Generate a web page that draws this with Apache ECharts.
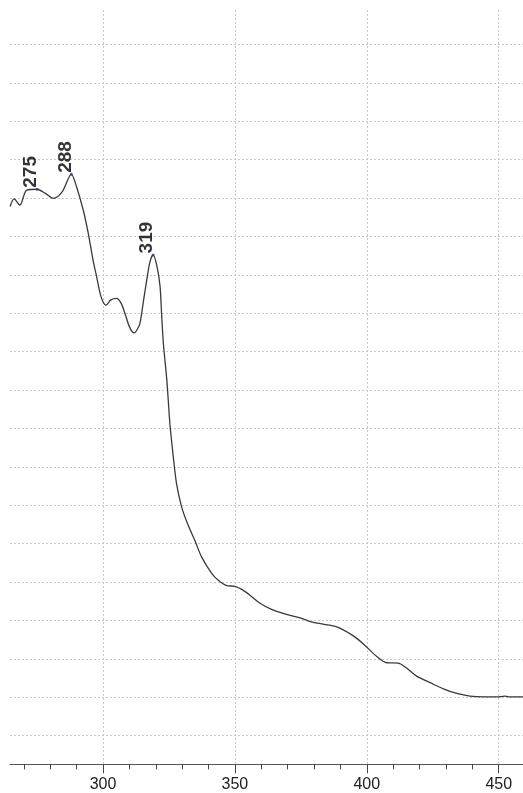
<!DOCTYPE html>
<html>
<head>
<meta charset="utf-8">
<script src="https://cdn.jsdelivr.net/npm/echarts@6/dist/echarts.min.js"></script>
<style>
  html, body { margin: 0; padding: 0; background: #fff; }
  #chart { width: 523px; height: 793px; }
</style>
</head>
<body>
<div id="chart"></div>
<script>
// UV-Vis absorption spectrum (wavelength in nm, absorbance)
const wavelength = [
  264.8, 266.3, 268.5, 271.1, 275.0, 278.0, 281.2, 284.5, 288.0, 290.0,
  292.5, 294.4, 296.3, 297.6, 298.9, 300.0, 301.1, 303.0, 305.2, 306.8,
  308.3, 310.2, 311.9, 312.9, 314.0, 315.4, 316.6, 317.8, 319.0, 320.4,
  321.6, 322.2, 322.9, 324.2, 325.4, 326.7, 327.9, 329.8, 332.1, 334.9,
  337.4, 341.2, 343.7, 346.9, 350.0, 352.6, 355.7, 359.5, 363.9, 369.6,
  374.7, 379.7, 387.3, 389.8, 394.9, 398.7, 403.8, 407.5, 411.9, 414.5,
  418.9, 424.0, 429.0, 434.1, 439.1, 444.2, 449.2, 452.4, 454.3, 459.2
];
const absorbance = [
  1.378, 1.398, 1.382, 1.421, 1.423, 1.413, 1.399, 1.416, 1.462, 1.429,
  1.369, 1.309, 1.236, 1.195, 1.152, 1.130, 1.121, 1.135, 1.139, 1.127,
  1.100, 1.062, 1.049, 1.057, 1.074, 1.135, 1.187, 1.234, 1.252, 1.224,
  1.172, 1.100, 1.020, 0.926, 0.809, 0.723, 0.655, 0.596, 0.551, 0.507,
  0.465, 0.423, 0.405, 0.391, 0.389, 0.381, 0.366, 0.345, 0.329, 0.316,
  0.307, 0.295, 0.286, 0.280, 0.260, 0.239, 0.206, 0.190, 0.189, 0.179,
  0.155, 0.138, 0.122, 0.110, 0.103, 0.101, 0.101, 0.103, 0.101, 0.101
];

// Picked absorption maxima
const peakWavelength = [275, 288, 319];
const peakAbsorbance = [1.423, 1.462, 1.252];

// Wavelength tick values
const xTickValues = [300, 350, 400, 450];

const spectrum = wavelength.map((w, i) => [w, absorbance[i]]);
const peaks = peakWavelength.map((w, i) => [w, peakAbsorbance[i]]);

const dashStyle = { color: '#c9c9c9', width: 1, type: [2, 2] };

const chart = echarts.init(document.getElementById('chart'), null, { renderer: 'canvas' });
chart.setOption({
  animation: false,
  backgroundColor: '#ffffff',
  grid: { left: 10, right: 0, top: 10, bottom: 28.7, outerBoundsMode: 'none', containLabel: false },
  xAxis: {
    type: 'value',
    min: 264.75,
    max: 459.2,
    minInterval: 50,
    maxInterval: 50,
    axisLine: { show: true, onZero: false, lineStyle: { color: '#555', width: 1 } },
    axisTick: { show: true, length: 9, customValues: xTickValues, lineStyle: { color: '#444', width: 1 } },
    minorTick: { show: true, splitNumber: 5, length: 5, lineStyle: { color: '#444', width: 1 } },
    axisLabel: {
      show: true, customValues: xTickValues,
      margin: 12, color: '#222', fontSize: 16, fontFamily: 'Liberation Sans, Arial, sans-serif'
    },
    splitLine: { show: true, lineStyle: dashStyle }
  },
  yAxis: {
    type: 'value',
    min: -0.0745,
    max: 1.8898,
    minInterval: 0.1,
    maxInterval: 0.1,
    axisLine: { show: false },
    axisTick: { show: false },
    axisLabel: { show: false },
    splitLine: { show: true, showMinLine: false, showMaxLine: false, lineStyle: dashStyle }
  },
  series: [
    {
      type: 'line',
      data: spectrum,
      smooth: 0.3,
      showSymbol: false,
      lineStyle: { color: '#3a3a3a', width: 1.3 },
      z: 3
    },
    {
      type: 'scatter',
      data: peaks,
      symbol: 'circle',
      symbolSize: 3,
      itemStyle: { color: '#3535a8' },
      label: {
        show: true,
        formatter: p => String(p.value[0]),
        position: [-4.5, 0],
        rotate: 90,
        align: 'left',
        verticalAlign: 'middle',
        color: '#000',
        fontSize: 19,
        fontWeight: 'bold',
        fontFamily: 'Liberation Sans, Arial, sans-serif'
      },
      z: 4
    }
  ]
});
</script>
</body>
</html>
